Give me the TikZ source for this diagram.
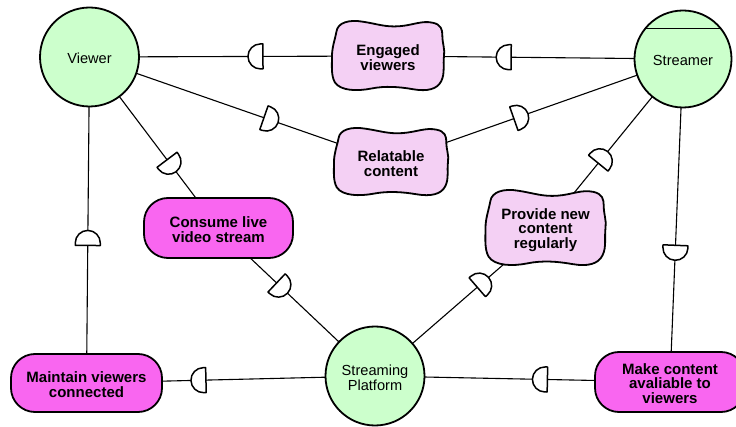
\documentclass[tikz,border=0pt]{standalone}
\usepackage{fontspec}
\setmainfont{Liberation Sans}
\usetikzlibrary{calc}
\pgfdeclarelayer{bg}
\pgfsetlayers{bg,main}
\definecolor{actorfill}{RGB}{204,255,204}
\definecolor{goalfill}{RGB}{249,102,240}
\definecolor{softfill}{RGB}{244,208,244}
\tikzset{
 outline/.style={draw=black, line width=1.8pt, line join=round},
 regtext/.style={inner sep=0pt, align=center, font=\fontsize{14.6}{15}\selectfont},
 boldtext/.style={inner sep=0pt, align=center, font=\bfseries\fontsize{15}{14.8}\selectfont},
 actor/.style={circle, outline, fill=actorfill, inner sep=0pt, outer sep=0pt},
 goal/.style={rectangle, rounded corners=24pt, outline, fill=goalfill, inner sep=0pt, minimum height=60pt},
 sgtext/.style={rectangle, inner sep=0pt},
 link/.style={draw=black, line width=1.1pt},
 dstyle/.style={draw=black, fill=white, line width=1.5pt, line join=round},
 dmark/.pic={\path[dstyle] (-7.5,-12.5) -- (-7.5,12.5) -- (-5,12.5) arc[start angle=90, end angle=-90, radius=12.5] -- cycle;}
}
\newcommand\softgoal[6]{%
 \begin{scope}[shift={(#2,#3)}, x=#4pt, y=#5pt]
  \path[outline, fill=softfill] (-0.92,0.7)
   .. controls (-0.9,0.95) and (-0.7,1.05) .. (-0.45,0.98)
   .. controls (-0.2,0.92) and (-0.05,0.82) .. (0.2,0.85)
   .. controls (0.45,0.88) and (0.6,1.02) .. (0.8,0.95)
   .. controls (0.95,0.9) and (0.97,0.75) .. (0.97,0.6)
   .. controls (0.97,0.35) and (1.02,0.2) .. (1.0,0)
   .. controls (0.98,-0.25) and (1.02,-0.5) .. (0.95,-0.72)
   .. controls (0.88,-0.95) and (0.7,-1.02) .. (0.45,-0.95)
   .. controls (0.2,-0.88) and (-0.05,-0.85) .. (-0.3,-0.93)
   .. controls (-0.55,-1.01) and (-0.85,-1.0) .. (-0.95,-0.75)
   .. controls (-1.02,-0.55) and (-1.0,-0.25) .. (-1.0,0)
   .. controls (-1.0,0.25) and (-0.95,0.45) .. (-0.92,0.7) -- cycle;
 \end{scope}
 \node[sgtext, minimum width={1.95*#4pt}, minimum height={1.8*#5pt},
   label={[boldtext, yshift=-2pt]center:{#6}}] (#1) at (#2,#3) {};
}
\newcommand\deplink[3]{%
 \draw[link] (#1.center) -- (#2.center);
 \path let \p1=($(#2)-(#1)$), \n1={atan2(\y1,\x1)} in pic[rotate=\n1] at ($(#1)!#3!(#2)$) {dmark};
}
\begin{document}
\begin{tikzpicture}[x=1pt, y=-1pt]
\useasboundingbox (0,0) rectangle (736,427);
% actors
\node[actor, minimum size=99pt, label={[regtext, yshift=-1pt]center:Viewer}] (viewer) at (89.5,57) {};
\node[actor, minimum size=97pt, label={[regtext, yshift=-1.5pt]center:Streamer}] (streamer) at (683,59) {};
\draw[outline] (streamer.39) -- (streamer.141);
\node[actor, minimum size=99pt, label={[regtext, yshift=-1.5pt]center:{Streaming\\Platform}}] (platform) at (375,376) {};
% softgoals
\softgoal{engaged}{388}{56}{56}{35}{Engaged\\viewers}
\softgoal{relatable}{391}{162}{57}{34}{Relatable\\content}
\softgoal{provide}{545.5}{228}{60}{38}{Provide new\\content\\regularly}
% goals
\node[goal, minimum width=149pt, label={[boldtext, yshift=-2pt]center:{Consume live\\video stream}}] (consume) at (218.5,228) {};
\node[goal, minimum width=151pt, minimum height=58pt, label={[boldtext, yshift=-1.5pt]center:{Maintain viewers\\connected}}] (maintain) at (86.5,383) {};
\node[goal, minimum width=150pt, label={[boldtext, yshift=-1.5pt]center:{Make content\\avaliable to\\viewers}}] (make) at (670,382) {};
% dependencies
\begin{pgfonlayer}{bg}
\deplink{engaged}{viewer}{0.444}
\deplink{streamer}{engaged}{0.608}
\deplink{viewer}{relatable}{0.602}
\deplink{relatable}{streamer}{0.445}
\deplink{viewer}{consume}{0.636}
\deplink{consume}{platform}{0.406}
\deplink{maintain}{viewer}{0.445}
\deplink{platform}{provide}{0.633}
\deplink{provide}{streamer}{0.418}
\deplink{streamer}{make}{0.60}
\deplink{make}{platform}{0.441}
\deplink{platform}{maintain}{0.612}
\end{pgfonlayer}
\end{tikzpicture}
\end{document}
